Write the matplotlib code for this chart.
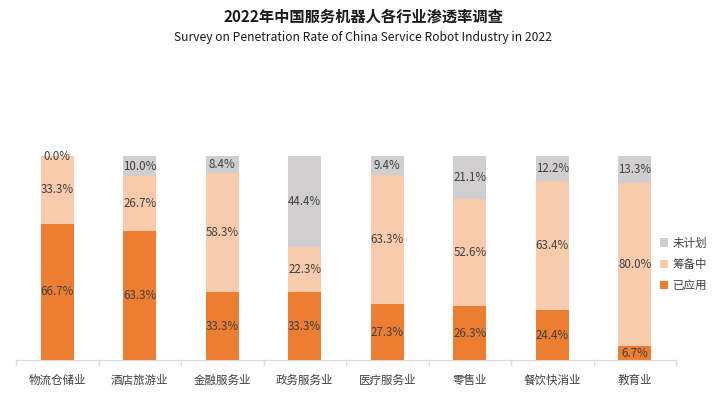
import matplotlib
matplotlib.use("Agg")
import matplotlib.pyplot as plt
import numpy as np

plt.rcParams['font.family'] = ['Noto Sans CJK SC', 'DejaVu Sans']

categories = ["物流仓储业", "酒店旅游业", "金融服务业", "政务服务业", "医疗服务业", "零售业", "餐饮快消业", "教育业"]
applied = [66.7, 63.3, 33.3, 33.3, 27.3, 26.3, 24.4, 6.7]
preparing = [33.3, 26.7, 58.3, 22.3, 63.3, 52.6, 63.4, 80.0]
unplanned = [0.0, 10.0, 8.4, 44.4, 9.4, 21.1, 12.2, 13.3]
series_names = ["已应用", "筹备中", "未计划"]
colors = ["#ED7D31", "#F8CBAD", "#D0CECE"]

fig = plt.figure(figsize=(7.26, 4.16), dpi=100)
ax = fig.add_axes([16/726, 1-360/416, 660/726, 204/416])

x = np.arange(len(categories))
w = 0.4
txt = "#404040"
bottom = np.zeros(len(categories))
bars = []
for vals, name, c in zip([applied, preparing, unplanned], series_names, colors):
    v = np.array(vals)
    b = ax.bar(x, v, w, bottom=bottom, color=c, label=name, zorder=2)
    bars.append(b)
    for xi, vi, bi in zip(x, v, bottom):
        ax.text(xi, bi + vi/2, f"{vi:.1f}%", ha='center', va='center', fontsize=8.3, color=txt, zorder=3)
    bottom = bottom + v

ax.set_xlim(-0.5, len(categories)-0.5)
ax.set_ylim(0, 100)
ax.set_yticks([])
for s in ['top', 'right', 'left']:
    ax.spines[s].set_visible(False)
ax.spines['bottom'].set_color('#D9D9D9')
ax.set_xticks(x)
ax.set_xticklabels(categories, fontsize=8.3, color=txt)
ax.tick_params(axis='x', length=0, pad=10)
for b in np.arange(-0.5, len(categories), 1.0):
    ax.plot([b, b], [0, -2.5], color='#D9D9D9', lw=1, clip_on=False, zorder=1)

handles = [bars[2], bars[1], bars[0]]
leg = ax.legend(handles, ["未计划", "筹备中", "已应用"], loc='center left', bbox_to_anchor=(644/660, 0.47),
                frameon=False, fontsize=8.3, handlelength=0.7, handleheight=0.7, handletextpad=0.4,
                labelspacing=0.7, borderaxespad=0, borderpad=0)
for t in leg.get_texts():
    t.set_color(txt)

fig.text(0.5, 1-17/416, "2022年中国服务机器人各行业渗透率调查", ha='center', va='center', fontsize=11, fontweight='bold', color='#1a1a1a')
fig.text(0.5, 1-38/416, "Survey on Penetration Rate of China Service Robot Industry in 2022", ha='center', va='center', fontsize=8.7, color='#1a1a1a')

fig.savefig("out.png", dpi=100)
